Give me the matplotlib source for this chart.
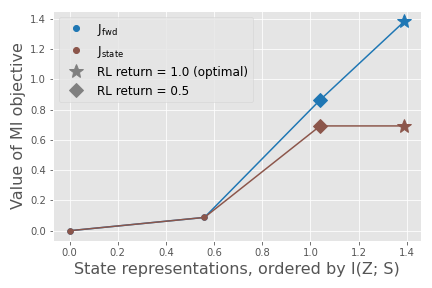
import numpy as np
from matplotlib import pyplot as plt
from matplotlib.lines import Line2D

plt.style.use('ggplot')

# I(Z; S) of each state representation
info = [0.0, 0.56, 1.04, 1.39]
j_fwd = [0.0, 0.088, 0.865, 1.385]
j_state = [0.0, 0.088, 0.693, 0.693]

blue = '#1f77b4'
brown = '#8c564b'

fig, ax = plt.subplots(figsize=(6, 4), dpi=72)

for ys, c in [(j_fwd, blue), (j_state, brown)]:
    ax.plot(info, ys, color=c, lw=1.5)
    ax.plot(info[:2], ys[:2], 'o', color=c, ms=5.5)
    ax.plot(info[2], ys[2], 'D', color=c, ms=10)
    ax.plot(info[3], ys[3], '*', color=c, ms=15)

handles = [
    Line2D([], [], ls='', marker='o', color=blue, ms=6, label=r'$\mathrm{J}_{\rm fwd}$'),
    Line2D([], [], ls='', marker='o', color=brown, ms=6, label=r'$\mathrm{J}_{\rm state}$'),
    Line2D([], [], ls='', marker='*', color='gray', ms=15, label='RL return = 1.0 (optimal)'),
    Line2D([], [], ls='', marker='D', color='gray', ms=10, label='RL return = 0.5'),
]
ax.legend(handles=handles, loc='upper left', fontsize=12)

ax.set_xlabel('State representations, ordered by I(Z; S)', fontsize=16)
ax.set_ylabel('Value of MI objective', fontsize=16)
ax.tick_params(labelsize=10)

plt.tight_layout()
plt.savefig('out.png')
